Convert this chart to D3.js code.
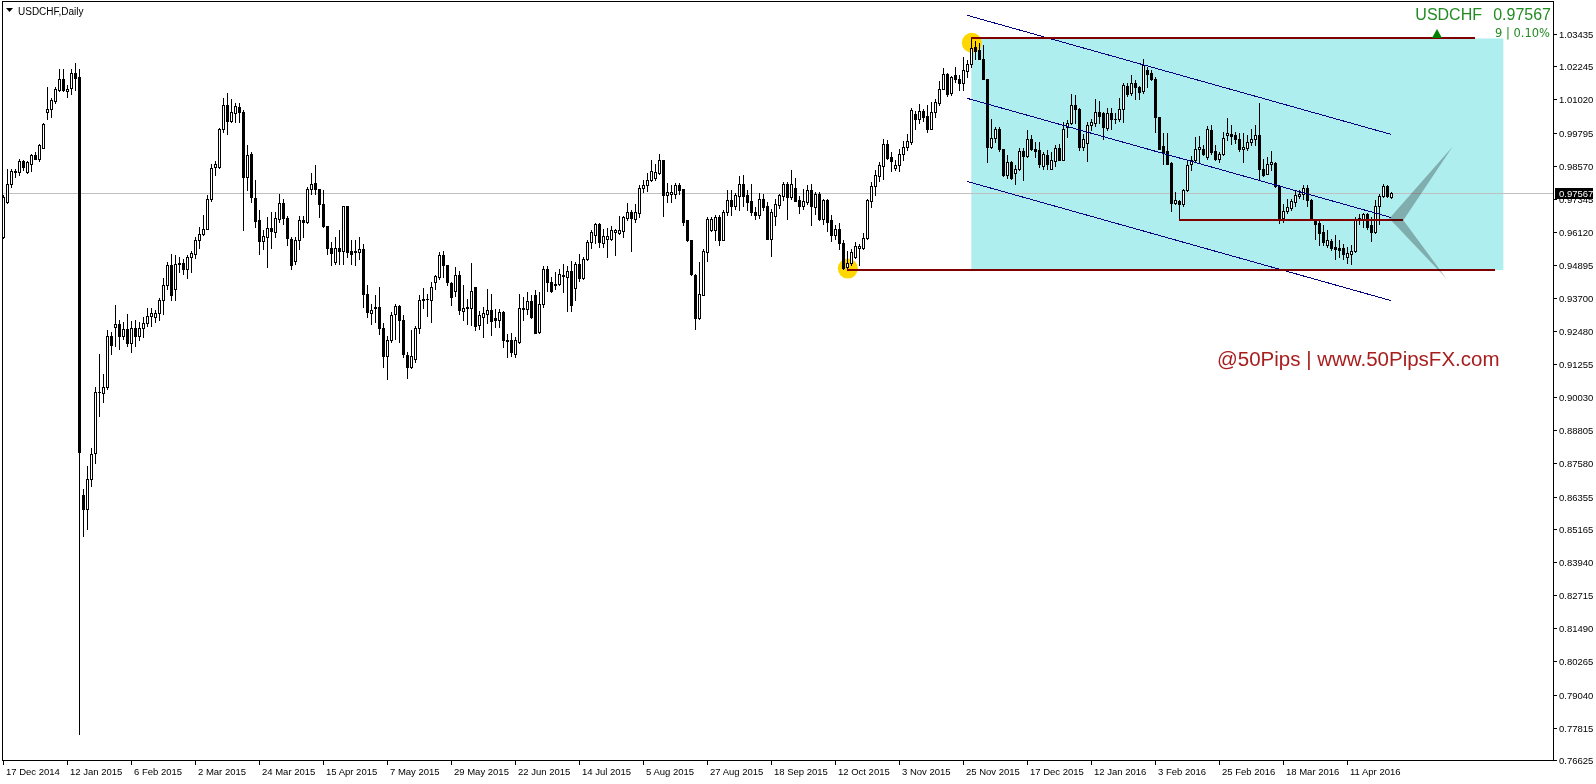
<!DOCTYPE html>
<html>
<head>
<meta charset="utf-8">
<script src="https://cdn.jsdelivr.net/npm/d3@7"></script>
<style>
  body { margin: 0; background: #fff; overflow: hidden; }
  svg { display: block; }
  text { font-family: "Liberation Sans", Arial, sans-serif; }
</style>
</head>
<body>
<script>
// USDCHF daily, 17 Dec 2014 .. 26 Apr 2016 (one entry per bar)
const opens = [
0.9593,0.9723,0.9791,0.9833,0.9834,0.9873,0.9834,0.9865,0.9896,0.9883,
0.9924,1.0056,1.0065,1.0096,1.0137,1.0179,1.0132,1.0145,1.0198,1.0183,
0.8641,0.8589,0.8700,0.8796,0.9021,0.9018,0.9039,0.9230,0.9261,0.9273,
0.9228,0.9255,0.9203,0.9257,0.9230,0.9257,0.9277,0.9301,0.9298,0.9314,
0.9363,0.9418,0.9489,0.9403,0.9494,0.9499,0.9477,0.9520,0.9532,0.9581,
0.9606,0.9624,0.9733,0.9852,0.9852,0.9992,1.0083,1.0022,1.0050,1.0074,
1.0056,0.9815,0.9899,0.9739,0.9655,0.9578,0.9593,0.9628,0.9612,0.9661,
0.9720,0.9663,0.9587,0.9504,0.9581,0.9655,0.9649,0.9770,0.9794,0.9772,
0.9717,0.9634,0.9554,0.9501,0.9554,0.9541,0.9710,0.9541,0.9538,0.9538,
0.9548,0.9384,0.9314,0.9333,0.9334,0.9258,0.9154,0.9215,0.9308,0.9338,
0.9289,0.9158,0.9113,0.9144,0.9258,0.9363,0.9365,0.9363,0.9427,0.9445,
0.9529,0.9492,0.9423,0.9396,0.9454,0.9319,0.9331,0.9331,0.9411,0.9269,
0.9300,0.9310,0.9325,0.9295,0.9286,0.9318,0.9214,0.9212,0.9163,0.9207,
0.9328,0.9328,0.9359,0.9378,0.9242,0.9347,0.9474,0.9429,0.9418,0.9421,
0.9450,0.9445,0.9470,0.9405,0.9495,0.9442,0.9514,0.9575,0.9600,0.9643,
0.9571,0.9587,0.9585,0.9614,0.9610,0.9615,0.9665,0.9688,0.9661,0.9682,
0.9775,0.9785,0.9803,0.9812,0.9832,0.9877,0.9750,0.9754,0.9754,0.9785,
0.9770,0.9655,0.9581,0.9455,0.9295,0.9381,0.9540,0.9621,0.9618,0.9667,
0.9581,0.9686,0.9729,0.9708,0.9745,0.9788,0.9748,0.9725,0.9688,0.9676,
0.9735,0.9707,0.9585,0.9671,0.9713,0.9745,0.9791,0.9741,0.9776,0.9729,
0.9710,0.9723,0.9766,0.9704,0.9751,0.9659,0.9729,0.9655,0.9602,0.9624,
0.9572,0.9482,0.9499,0.9520,0.9554,0.9554,0.9590,0.9726,0.9782,0.9819,
0.9856,0.9936,0.9889,0.9848,0.9858,0.9902,0.9926,0.9945,1.0047,1.0031,
1.0058,1.0040,0.9992,1.0056,1.0090,1.0142,1.0195,1.0124,1.0191,1.0179,
1.0163,1.0207,1.0232,1.0294,1.0284,1.0253,1.0179,0.9926,0.9961,0.9994,
0.9917,0.9824,0.9869,0.9830,0.9846,0.9910,0.9892,0.9954,0.9917,0.9914,
0.9856,0.9896,0.9846,0.9873,0.9924,0.9880,1.0000,1.0015,1.0083,1.0068,
0.9926,0.9942,1.0009,1.0013,1.0054,1.0052,0.9998,1.0050,1.0031,1.0029,
1.0066,1.0151,1.0124,1.0161,1.0146,1.0133,1.0210,1.0198,1.0179,1.0037,
0.9929,0.9911,0.9867,0.9719,0.9726,0.9717,0.9769,0.9862,0.9877,0.9919,
0.9920,0.9889,0.9988,0.9910,0.9883,0.9899,0.9970,0.9976,0.9970,0.9957,
0.9917,0.9924,0.9945,0.9954,0.9970,0.9846,0.9828,0.9865,0.9867,0.9781,
0.9665,0.9689,0.9702,0.9723,0.9744,0.9751,0.9776,0.9729,0.9658,0.9645,
0.9612,0.9566,0.9578,0.9556,0.9554,0.9553,0.9520,0.9532,0.9541,0.9658,
0.9661,0.9677,0.9637,0.9612,0.9710,0.9744,0.9782,0.9741
]
const highs = [
0.9748,0.9844,0.9844,0.9846,0.9883,0.9880,0.9873,0.9902,0.9906,0.9939,
1.0015,1.0146,1.0108,1.0146,1.0214,1.0214,1.0155,1.0214,1.0235,1.0216,
0.8663,0.8747,0.8814,0.9039,0.9163,0.9089,0.9249,0.9242,0.9341,0.9286,
0.9279,0.9310,0.9283,0.9286,0.9279,0.9298,0.9333,0.9333,0.9326,0.9369,
0.9442,0.9501,0.9532,0.9526,0.9520,0.9514,0.9526,0.9544,0.9593,0.9630,
0.9676,0.9748,0.9865,0.9873,0.9997,1.0109,1.0124,1.0105,1.0087,1.0087,
1.0062,0.9933,0.9908,0.9806,0.9692,0.9618,0.9667,0.9688,0.9688,0.9751,
0.9735,0.9671,0.9593,0.9593,0.9670,0.9670,0.9778,0.9832,0.9858,0.9772,
0.9766,0.9634,0.9575,0.9593,0.9618,0.9710,0.9710,0.9581,0.9581,0.9593,
0.9569,0.9415,0.9347,0.9380,0.9408,0.9277,0.9230,0.9316,0.9347,0.9341,
0.9304,0.9168,0.9249,0.9264,0.9380,0.9405,0.9384,0.9427,0.9454,0.9538,
0.9544,0.9492,0.9427,0.9482,0.9470,0.9417,0.9365,0.9497,0.9411,0.9322,
0.9334,0.9403,0.9384,0.9328,0.9328,0.9322,0.9236,0.9238,0.9223,0.9384,
0.9371,0.9390,0.9378,0.9399,0.9390,0.9485,0.9485,0.9445,0.9464,0.9477,
0.9495,0.9485,0.9507,0.9501,0.9532,0.9520,0.9584,0.9618,0.9645,0.9645,
0.9624,0.9628,0.9633,0.9624,0.9670,0.9670,0.9719,0.9692,0.9717,0.9785,
0.9803,0.9830,0.9880,0.9862,0.9899,0.9880,0.9793,0.9785,0.9793,0.9793,
0.9772,0.9658,0.9584,0.9458,0.9501,0.9550,0.9667,0.9667,0.9674,0.9674,
0.9695,0.9766,0.9766,0.9758,0.9819,0.9822,0.9766,0.9791,0.9704,0.9758,
0.9754,0.9723,0.9698,0.9735,0.9754,0.9797,0.9797,0.9840,0.9813,0.9744,
0.9772,0.9785,0.9791,0.9760,0.9760,0.9735,0.9735,0.9674,0.9637,0.9645,
0.9581,0.9544,0.9550,0.9575,0.9569,0.9608,0.9735,0.9797,0.9840,0.9871,
0.9955,0.9951,0.9906,0.9877,0.9920,0.9947,0.9976,1.0072,1.0058,1.0084,
1.0068,1.0080,1.0093,1.0102,1.0169,1.0218,1.0200,1.0188,1.0220,1.0191,
1.0257,1.0247,1.0327,1.0318,1.0311,1.0302,1.0179,1.0029,1.0000,1.0000,
0.9920,0.9896,0.9873,0.9858,0.9924,0.9923,0.9988,0.9972,0.9945,0.9945,
0.9906,0.9914,0.9908,0.9933,0.9939,1.0019,1.0025,1.0121,1.0117,1.0072,
0.9976,1.0019,1.0031,1.0103,1.0095,1.0056,1.0072,1.0072,1.0050,1.0109,
1.0161,1.0163,1.0191,1.0173,1.0152,1.0253,1.0220,1.0210,1.0183,1.0037,
0.9978,0.9978,0.9871,0.9760,0.9729,0.9772,0.9877,0.9892,0.9963,0.9966,
0.9933,1.0003,1.0007,0.9933,0.9908,0.9982,1.0035,1.0007,0.9982,0.9978,
0.9978,0.9970,0.9991,1.0007,1.0087,0.9883,0.9889,0.9910,0.9871,0.9785,
0.9717,0.9735,0.9735,0.9766,0.9766,0.9787,0.9785,0.9735,0.9661,0.9652,
0.9637,0.9618,0.9587,0.9600,0.9581,0.9569,0.9556,0.9563,0.9667,0.9680,
0.9682,0.9682,0.9667,0.9729,0.9754,0.9791,0.9785,0.9760
]
const lows = [
0.9590,0.9718,0.9778,0.9815,0.9822,0.9840,0.9832,0.9837,0.9881,0.9874,
0.9923,1.0028,1.0037,1.0089,1.0133,1.0132,1.0111,1.0121,1.0136,0.7758,
0.8490,0.8517,0.8673,0.8759,0.8931,0.8984,0.9033,0.9163,0.9193,0.9181,
0.9218,0.9193,0.9168,0.9193,0.9212,0.9224,0.9265,0.9265,0.9279,0.9286,
0.9310,0.9403,0.9363,0.9363,0.9464,0.9458,0.9442,0.9464,0.9516,0.9553,
0.9602,0.9622,0.9726,0.9822,0.9849,0.9980,0.9973,1.0019,1.0019,1.0019,
0.9618,0.9766,0.9723,0.9630,0.9532,0.9550,0.9482,0.9553,0.9593,0.9649,
0.9643,0.9565,0.9476,0.9495,0.9550,0.9593,0.9646,0.9754,0.9754,0.9667,
0.9630,0.9532,0.9489,0.9495,0.9495,0.9495,0.9520,0.9495,0.9489,0.9514,
0.9335,0.9298,0.9273,0.9281,0.9236,0.9113,0.9068,0.9205,0.9218,0.9205,
0.9150,0.9072,0.9109,0.9131,0.9240,0.9331,0.9301,0.9279,0.9400,0.9439,
0.9445,0.9415,0.9341,0.9375,0.9310,0.9286,0.9273,0.9269,0.9249,0.9254,
0.9226,0.9275,0.9233,0.9260,0.9263,0.9189,0.9150,0.9156,0.9152,0.9204,
0.9286,0.9310,0.9295,0.9238,0.9238,0.9334,0.9396,0.9390,0.9403,0.9415,
0.9390,0.9322,0.9322,0.9362,0.9433,0.9439,0.9510,0.9554,0.9571,0.9556,
0.9556,0.9520,0.9581,0.9526,0.9606,0.9593,0.9655,0.9544,0.9649,0.9667,
0.9760,0.9763,0.9800,0.9803,0.9828,0.9670,0.9723,0.9723,0.9739,0.9754,
0.9637,0.9578,0.9452,0.9254,0.9291,0.9378,0.9507,0.9615,0.9581,0.9563,
0.9581,0.9674,0.9674,0.9696,0.9692,0.9708,0.9692,0.9674,0.9659,0.9665,
0.9692,0.9585,0.9523,0.9637,0.9702,0.9729,0.9659,0.9735,0.9726,0.9682,
0.9698,0.9717,0.9637,0.9680,0.9655,0.9643,0.9615,0.9578,0.9587,0.9550,
0.9476,0.9480,0.9489,0.9516,0.9489,0.9550,0.9587,0.9704,0.9748,0.9800,
0.9809,0.9883,0.9837,0.9840,0.9837,0.9877,0.9914,0.9936,0.9992,1.0013,
1.0022,0.9982,0.9992,1.0037,1.0080,1.0139,1.0115,1.0117,1.0167,1.0136,
1.0136,1.0183,1.0220,1.0250,1.0251,1.0176,0.9871,0.9924,0.9945,0.9911,
0.9818,0.9813,0.9809,0.9791,0.9840,0.9803,0.9889,0.9914,0.9889,0.9852,
0.9846,0.9846,0.9846,0.9856,0.9877,0.9877,0.9963,1.0010,1.0013,0.9914,
0.9914,0.9874,0.9988,1.0003,1.0013,0.9957,0.9988,0.9994,1.0013,1.0022,
1.0019,1.0115,1.0117,1.0103,1.0103,1.0124,1.0148,1.0173,0.9982,0.9920,
0.9865,0.9862,0.9689,0.9717,0.9655,0.9710,0.9763,0.9840,0.9874,0.9871,
0.9896,0.9883,0.9902,0.9880,0.9871,0.9896,0.9951,0.9939,0.9941,0.9911,
0.9871,0.9914,0.9933,0.9933,0.9809,0.9818,0.9825,0.9840,0.9778,0.9645,
0.9651,0.9682,0.9692,0.9710,0.9739,0.9735,0.9710,0.9655,0.9587,0.9566,
0.9563,0.9556,0.9547,0.9514,0.9520,0.9514,0.9497,0.9495,0.9538,0.9643,
0.9630,0.9624,0.9578,0.9608,0.9643,0.9741,0.9741,0.9739
]
const closes = [
0.9741,0.9791,0.9837,0.9836,0.9873,0.9852,0.9869,0.9896,0.9883,0.9933,
1.0010,1.0065,1.0099,1.0139,1.0179,1.0136,1.0142,1.0198,1.0182,0.8799,
0.8589,0.8700,0.8793,0.9021,0.9023,0.9039,0.9230,0.9196,0.9273,0.9228,
0.9255,0.9203,0.9257,0.9230,0.9257,0.9277,0.9301,0.9314,0.9314,0.9363,
0.9418,0.9489,0.9381,0.9495,0.9499,0.9477,0.9520,0.9536,0.9581,0.9606,
0.9624,0.9733,0.9850,0.9862,0.9992,1.0083,1.0022,1.0054,1.0077,1.0054,
0.9815,0.9898,0.9741,0.9652,0.9578,0.9596,0.9628,0.9615,0.9665,0.9720,
0.9665,0.9590,0.9491,0.9581,0.9655,0.9649,0.9770,0.9788,0.9772,0.9717,
0.9633,0.9553,0.9536,0.9554,0.9541,0.9710,0.9538,0.9532,0.9544,0.9548,
0.9384,0.9316,0.9326,0.9337,0.9258,0.9154,0.9215,0.9306,0.9338,0.9289,
0.9163,0.9113,0.9154,0.9258,0.9363,0.9365,0.9366,0.9408,0.9448,0.9529,
0.9492,0.9427,0.9371,0.9454,0.9325,0.9332,0.9334,0.9393,0.9267,0.9306,
0.9312,0.9325,0.9282,0.9286,0.9316,0.9212,0.9208,0.9168,0.9212,0.9332,
0.9332,0.9359,0.9300,0.9240,0.9347,0.9474,0.9427,0.9396,0.9421,0.9458,
0.9454,0.9470,0.9344,0.9495,0.9443,0.9514,0.9575,0.9612,0.9643,0.9575,
0.9596,0.9596,0.9621,0.9618,0.9618,0.9667,0.9688,0.9663,0.9686,0.9776,
0.9785,0.9803,0.9836,0.9834,0.9877,0.9750,0.9760,0.9760,0.9785,0.9766,
0.9649,0.9581,0.9458,0.9295,0.9384,0.9544,0.9659,0.9659,0.9667,0.9581,
0.9688,0.9729,0.9708,0.9748,0.9788,0.9745,0.9723,0.9686,0.9674,0.9735,
0.9704,0.9585,0.9688,0.9714,0.9748,0.9791,0.9741,0.9788,0.9726,0.9710,
0.9725,0.9766,0.9710,0.9751,0.9659,0.9729,0.9651,0.9603,0.9624,0.9571,
0.9480,0.9499,0.9540,0.9559,0.9559,0.9591,0.9729,0.9781,0.9822,0.9858,
0.9936,0.9885,0.9873,0.9861,0.9902,0.9926,0.9947,1.0062,1.0031,1.0058,
1.0037,0.9992,1.0054,1.0093,1.0142,1.0195,1.0121,1.0183,1.0177,1.0163,
1.0210,1.0232,1.0290,1.0281,1.0253,1.0179,0.9926,0.9961,0.9994,0.9917,
0.9822,0.9869,0.9813,0.9846,0.9910,0.9893,0.9954,0.9917,0.9911,0.9862,
0.9902,0.9862,0.9880,0.9924,0.9880,0.9992,1.0015,1.0083,1.0068,0.9926,
0.9955,1.0009,1.0018,1.0054,1.0041,1.0000,1.0050,1.0028,1.0029,1.0068,
1.0155,1.0121,1.0161,1.0146,1.0130,1.0228,1.0194,1.0179,1.0037,0.9920,
0.9904,0.9865,0.9719,0.9729,0.9714,0.9769,0.9861,0.9877,0.9920,0.9926,
0.9902,0.9991,0.9908,0.9883,0.9899,0.9961,0.9978,0.9967,0.9955,0.9917,
0.9926,0.9945,0.9954,0.9970,0.9846,0.9822,0.9865,0.9871,0.9781,0.9665,
0.9689,0.9704,0.9725,0.9748,0.9751,0.9776,0.9729,0.9658,0.9643,0.9608,
0.9575,0.9581,0.9554,0.9550,0.9547,0.9532,0.9534,0.9544,0.9661,0.9665,
0.9677,0.9630,0.9612,0.9710,0.9746,0.9782,0.9744,0.97567
]

const dateLabels = ["17 Dec 2014", "12 Jan 2015", "6 Feb 2015", "2 Mar 2015", "24 Mar 2015",
    "15 Apr 2015", "7 May 2015", "29 May 2015", "22 Jun 2015", "14 Jul 2015", "5 Aug 2015",
    "27 Aug 2015", "18 Sep 2015", "12 Oct 2015", "3 Nov 2015", "25 Nov 2015", "17 Dec 2015",
    "12 Jan 2016", "3 Feb 2016", "25 Feb 2016", "18 Mar 2016", "11 Apr 2016"]
const priceLabels = [1.03435, 1.02245, 1.01020, 0.99795, 0.98570, 0.97345, 0.96120, 0.94895,
    0.93700, 0.92480, 0.91255, 0.90030, 0.88805, 0.87580, 0.86355, 0.85165, 0.83940, 0.82715,
    0.81490, 0.80265, 0.79040, 0.77815, 0.76625]
const lastPrice = 0.97567

// drawn objects: [bar, price] pairs
const channel = [
    [[241, 1.04123], [347, 0.99726]],
    [[241, 1.01057], [347, 0.96657]],
    [[241, 0.97988], [347, 0.93587]]
]
const levels = [
    {from: 242, to: 368, price: 1.0327},
    {from: 294, to: 350, price: 0.9655},
    {from: 211, to: 373, price: 0.9472}
]
const zone = {from: 242, to: 375, top: 1.0327, bottom: 0.9472}
const pivots = [[242, 1.03113], [211, 0.94771]]
const arrowShape = [[362.3, 0.99267], [346.5, 0.9662], [360.8, 0.9440], [350, 0.96557]]

let width = 1596
let height = 784
let plotRight = 1553
let plotBottom = 760

var svg = d3.select("body")
    .append("svg")
    .attr("width", width)
    .attr("height", height)

var x = d3.scaleLinear().domain([0, 347]).range([3.33, 1391.33])
var y = d3.scaleLinear().domain([0.76625, 1.03435]).range([760, 34])
const px = i => Math.round(x(i))
const py = v => Math.round(y(v))

// background zone
svg.append("rect")
    .attr("x", x(zone.from))
    .attr("y", y(zone.top))
    .attr("width", x(zone.to) - x(zone.from))
    .attr("height", y(zone.bottom) - y(zone.top))
    .attr("fill", "#afeeee")

// last price line
svg.append("rect")
    .attr("x", 2).attr("width", plotRight - 2)
    .attr("y", py(lastPrice)).attr("height", 1)
    .attr("fill", "#c0c0c0")

// yellow pivot markers
svg.append("g").selectAll("circle")
    .data(pivots)
    .join("circle")
    .attr("cx", d => x(d[0]) + 0.5)
    .attr("cy", d => y(d[1]))
    .attr("r", 10)
    .attr("fill", "#ffd700")

// candles
var bars = opens.map((o, i) => ({
    i: i, o: o, c: closes[i],
    h: Math.max(highs[i], o, closes[i]),
    l: Math.min(lows[i], o, closes[i])
}))

var cg = svg.append("g").attr("shape-rendering", "crispEdges")

cg.selectAll("rect.wick")
    .data(bars)
    .join("rect")
    .attr("class", "wick")
    .attr("x", d => px(d.i))
    .attr("width", 1)
    .attr("y", d => py(d.h))
    .attr("height", d => py(d.l) - py(d.h) + 1)
    .attr("fill", "#000")

cg.selectAll("rect.body")
    .data(bars)
    .join("rect")
    .attr("class", "body")
    .attr("x", d => px(d.i) - 1)
    .attr("width", 3)
    .attr("y", d => py(Math.max(d.o, d.c)))
    .attr("height", d => Math.max(1, py(Math.min(d.o, d.c)) - py(Math.max(d.o, d.c)) + 1))
    .attr("fill", "#000")

cg.selectAll("rect.hollow")
    .data(bars.filter(d => d.c > d.o && py(d.o) - py(d.c) >= 2))
    .join("rect")
    .attr("class", "hollow")
    .attr("x", d => px(d.i))
    .attr("width", 1)
    .attr("y", d => py(d.c) + 1)
    .attr("height", d => py(d.o) - py(d.c) - 1)
    .attr("fill", "#fff")

// channel lines
svg.append("g").selectAll("line")
    .data(channel)
    .join("line")
    .attr("x1", d => x(d[0][0]))
    .attr("y1", d => y(d[0][1]))
    .attr("x2", d => x(d[1][0]))
    .attr("y2", d => y(d[1][1]))
    .attr("stroke", "#000080")
    .attr("stroke-width", 1)
    .attr("shape-rendering", "crispEdges")

// horizontal levels
svg.append("g").selectAll("rect")
    .data(levels)
    .join("rect")
    .attr("x", d => px(d.from))
    .attr("width", d => px(d.to) - px(d.from))
    .attr("y", d => py(d.price) - 1)
    .attr("height", 2)
    .attr("fill", "#800000")

// arrow shape
svg.append("polygon")
    .attr("points", arrowShape.map(p => [x(p[0]), y(p[1])].join(",")).join(" "))
    .attr("fill", "#bababa")
    .style("mix-blend-mode", "multiply")

// frame
svg.append("rect")
    .attr("x", 2.5).attr("y", 1.5)
    .attr("width", plotRight - 2).attr("height", plotBottom - 1)
    .attr("fill", "none")
    .attr("stroke", "#000")
    .attr("shape-rendering", "crispEdges")

// price axis
var pa = svg.append("g")
pa.selectAll("line")
    .data(priceLabels)
    .join("line")
    .attr("x1", plotRight).attr("x2", plotRight + 4)
    .attr("y1", d => py(d) + 0.5).attr("y2", d => py(d) + 0.5)
    .attr("stroke", "#000")
pa.selectAll("text")
    .data(priceLabels)
    .join("text")
    .attr("x", plotRight + 6)
    .attr("y", d => py(d) + 3.5)
    .attr("font-size", "9.5px")
    .attr("fill", "#000")
    .text(d => d.toFixed(5))

// current price box (covers the label under it, as in the terminal)
svg.append("rect")
    .attr("x", 1555).attr("y", py(lastPrice) - 5)
    .attr("width", 38).attr("height", 11)
    .attr("fill", "#000")
svg.append("text")
    .attr("x", plotRight + 6)
    .attr("y", py(lastPrice) + 4)
    .attr("font-size", "9.5px")
    .attr("fill", "#fff")
    .text(lastPrice.toFixed(5))

// time axis
var ta = svg.append("g")
ta.selectAll("line")
    .data(dateLabels)
    .join("line")
    .attr("x1", (d, k) => px(k * 16) + 0.5)
    .attr("x2", (d, k) => px(k * 16) + 0.5)
    .attr("y1", plotBottom).attr("y2", plotBottom + 5)
    .attr("stroke", "#000")
ta.selectAll("text")
    .data(dateLabels)
    .join("text")
    .attr("x", (d, k) => px(k * 16) + 3)
    .attr("y", 775)
    .attr("font-size", "9.5px")
    .attr("fill", "#000")
    .text(d => d)

// title
svg.append("path").attr("d", "M6,8 L13,8 L9.5,12 Z").attr("fill", "#000")
svg.append("text")
    .attr("x", 18).attr("y", 15)
    .attr("font-size", "10px")
    .attr("fill", "#000")
    .text("USDCHF,Daily")

// top right quote
svg.append("text")
    .attr("x", 1482).attr("y", 19.5)
    .attr("text-anchor", "end")
    .attr("font-size", "16px")
    .attr("fill", "#228b22")
    .text("USDCHF")
svg.append("text")
    .attr("x", 1551).attr("y", 19.5)
    .attr("text-anchor", "end")
    .attr("font-size", "16px")
    .attr("fill", "#228b22")
    .text(lastPrice.toFixed(5))
svg.append("text")
    .attr("x", 1550).attr("y", 37)
    .attr("text-anchor", "end")
    .attr("font-size", "11.5px")
    .style("font-family", "'DejaVu Sans', sans-serif")
    .attr("fill", "#228b22")
    .text("9 | 0.10%")
svg.append("path").attr("d", "M1432,38 L1442,38 L1437,29 Z").attr("fill", "#008000")

// watermark
svg.append("text")
    .attr("x", 1217).attr("y", 366)
    .attr("font-size", "20.5px")
    .attr("fill", "#a81e1e")
    .text("@50Pips | www.50PipsFX.com")
</script>
</body>
</html>
